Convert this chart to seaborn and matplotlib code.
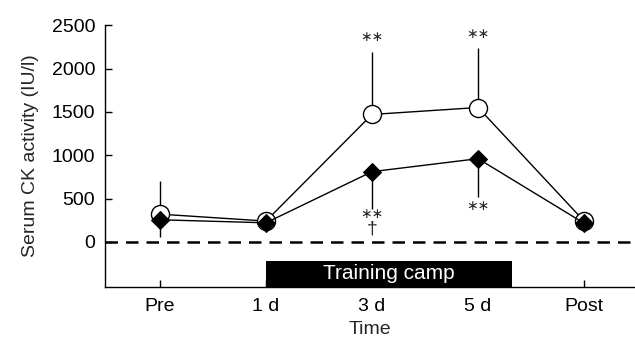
import numpy as np
import pandas as pd
import matplotlib
matplotlib.use("Agg")
import matplotlib.pyplot as plt
import seaborn as sns

# data
times = ["Pre", "1 d", "3 d", "5 d", "Post"]
open_mean = [320, 240, 1470, 1550, 240]
open_err = [380, 20, 720, 690, 40]
filled_mean = [255, 220, 810, 960, 215]
filled_err = [200, 20, 430, 440, 20]
ticks_y = [0, 500, 1000, 1500, 2000, 2500]

sns.set_theme(style="ticks")
plt.rcParams['font.family'] = ['Liberation Sans', 'DejaVu Sans']

df = pd.DataFrame({
    "x": list(range(len(times))) * 2,
    "val": open_mean + filled_mean,
    "group": ["open"] * len(times) + ["filled"] * len(times),
})

fig = plt.figure(figsize=(6.35, 3.4), dpi=100)
ax = fig.add_axes([0.165, 0.156, 0.835, 0.77])

xs = np.arange(len(times))

# dashed zero line
ax.axhline(0, color="black", lw=1.8, ls=(0, (5, 3.2)), zorder=1)

# one-sided error bars
ax.vlines(xs, open_mean, np.array(open_mean) + np.array(open_err), color="black", lw=1, zorder=2)
ax.vlines(xs, np.array(filled_mean) - np.array(filled_err), filled_mean, color="black", lw=1, zorder=2)

sns.lineplot(data=df[df.group == "open"], x="x", y="val", color="black", lw=1,
             marker="o", markersize=13, markerfacecolor="white", markeredgecolor="black",
             markeredgewidth=1, ax=ax, zorder=3)
sns.lineplot(data=df[df.group == "filled"], x="x", y="val", color="black", lw=1,
             marker="D", markersize=9.5, markerfacecolor="black", markeredgecolor="black",
             ax=ax, zorder=4)

# significance marks
star = dict(ha="center", va="center", fontsize=10, family=["DejaVu Sans"])
ax.text(2, 2362, "∗∗", **star)
ax.text(3, 2400, "∗∗", **star)
ax.text(2, 323, "∗∗", **star)
ax.text(3, 415, "∗∗", **star)
ax.text(2, 150, "†", ha="center", va="center", fontsize=14)

# training camp bar
ax.axhspan(-520, -225, xmin=(1 + 0.52) / 5.0, xmax=(3.32 + 0.52) / 5.0, color="black", lw=0)
ax.text(2.16, -368, "Training camp", color="white", ha="center", va="center", fontsize=15)

ax.set_xlim(-0.52, 4.48)
ax.set_ylim(-520, 2500)
ax.set_xticks(xs)
ax.set_xticklabels(times)
ax.set_yticks(ticks_y)
ax.tick_params(axis="both", direction="in", length=5, width=1, labelsize=14, colors="black")
ax.tick_params(axis="x", pad=8)
ax.tick_params(axis="y", pad=7)
ax.set_xlabel("Time", fontsize=14, labelpad=4)
ax.set_ylabel("Serum CK activity (IU/l)", fontsize=14, labelpad=9)
for s in ["top", "right"]:
    ax.spines[s].set_visible(False)
for s in ["left", "bottom"]:
    ax.spines[s].set_color("black")
    ax.spines[s].set_linewidth(1)

fig.savefig("out.png", dpi=100)
